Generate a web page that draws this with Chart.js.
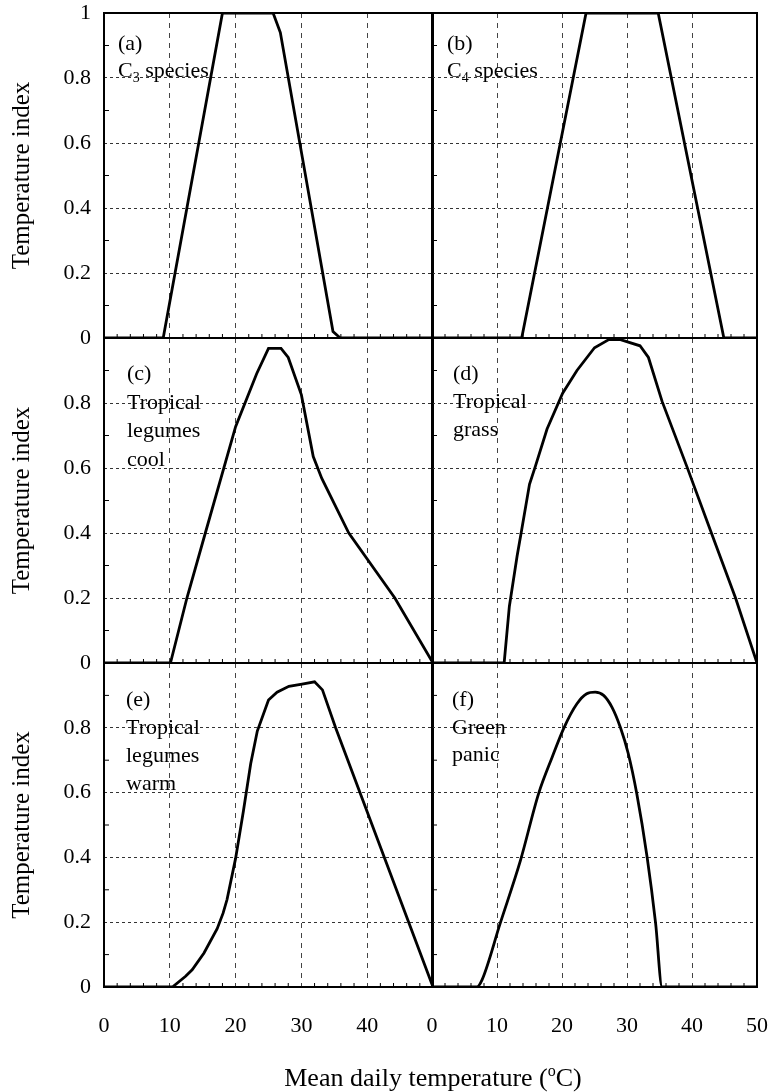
<!DOCTYPE html>
<html>
<head>
<meta charset="utf-8">
<script src="https://cdn.jsdelivr.net/npm/chart.js@4.4.0/dist/chart.umd.min.js"></script>
<style>
    body { margin: 0; background: #fff; }
    #wrap { position: relative; width: 775px; height: 1092px; }
    #wrap canvas { position: absolute; left: 0; top: 0; }
    #xTitle {
        position: absolute; left: 133px; width: 600px; top: 1056px;
        text-align: center; font: 26px "Liberation Serif", "Times New Roman", serif;
        line-height: 30px; color: #000;
    }
    #xTitle sup { font-size: 16px; vertical-align: 10px; }
</style>
</head>
<body>
<div id="wrap">
    <canvas id="panelA" width="775" height="1092"></canvas>
    <canvas id="panelB" width="775" height="1092"></canvas>
    <canvas id="panelC" width="775" height="1092"></canvas>
    <canvas id="panelD" width="775" height="1092"></canvas>
    <canvas id="panelE" width="775" height="1092"></canvas>
    <canvas id="panelF" width="775" height="1092"></canvas>
    <div id="xTitle">Mean daily temperature (<sup>o</sup>C)</div>
</div>
<script>
// Data (temperature in degC, index 0..1)
const c3Temp = [0, 9, 18, 25.7, 26.8, 34.8, 35.9, 50];
const c3Index = [0, 0, 1, 1, 0.94, 0.02, 0, 0];

const c4Temp = [0, 13.8, 23.7, 34.8, 44.9, 50];
const c4Index = [0, 0, 1, 1, 0, 0];

const legCoolTemp = [0, 10.1, 12.6, 15.4, 20, 23.2, 25, 26.9, 28, 30, 31.8, 33.1, 37.2, 44.2, 50];
const legCoolIndex = [0, 0, 0.2, 0.4, 0.727, 0.89, 0.968, 0.968, 0.94, 0.825, 0.635, 0.568, 0.4, 0.2, 0];

const grassTemp = [0, 11.1, 11.9, 13.1, 13.8, 15.0, 15.9, 17.7, 20.1, 22.3, 25.0, 27.2, 29.0, 32.0, 33.3, 35.4, 39.2, 42.8, 46.7, 50];
const grassIndex = [0, 0, 0.174, 0.33, 0.41, 0.55, 0.605, 0.72, 0.83, 0.90, 0.97, 0.995, 0.995, 0.976, 0.94, 0.805, 0.605, 0.41, 0.2, 0];

const legWarmTemp = [0, 10.4, 12.4, 13.4, 15.2, 17.2, 18.1, 18.7, 20.0, 21.2, 22.3, 23.3, 25.0, 26.3, 28.1, 30.1, 32.0, 33.2, 35.2, 50];
const legWarmIndex = [0, 0, 0.033, 0.053, 0.105, 0.18, 0.228, 0.27, 0.397, 0.545, 0.69, 0.79, 0.886, 0.91, 0.928, 0.935, 0.942, 0.917, 0.80, 0];

const panicTemp = [0, 6.9, 7.7, 10.5, 13.6, 16.4, 18.5, 20.3, 22.3, 23.8, 25.1, 26.4, 27.7, 29.0, 30.2, 31.5, 33.1, 34.4, 35.4, 50];
const panicIndex = [0, 0, 0.022, 0.197, 0.39, 0.597, 0.71, 0.80, 0.874, 0.905, 0.91, 0.90, 0.863, 0.80, 0.72, 0.597, 0.40, 0.197, 0, 0];

// Minor (inward) tick positions
const minorY = [0.1, 0.3, 0.5, 0.7, 0.9];
const minorX = [2, 4, 6, 8, 12, 14, 16, 18, 22, 24, 26, 28, 32, 34, 36, 38, 42, 44, 46, 48];

const serif = '"Liberation Serif", "Times New Roman", serif';

// Panel frame geometry
const cols = [{ left: 104, right: 433 }, { left: 432, right: 757 }];
const rows = [{ top: 13, bottom: 338 }, { top: 338, bottom: 663 }, { top: 663, bottom: 987 }];

// Draw frame, inward minor ticks and the panel label
const panelDecor = {
    id: 'panelDecor',
    afterDraw(chart, args, opts) {
        const { ctx, chartArea: a, scales: { x, y } } = chart;
        ctx.save();
        ctx.strokeStyle = '#000';
        ctx.lineWidth = 2;
        ctx.strokeRect(a.left, a.top, a.right - a.left, a.bottom - a.top);

        ctx.lineWidth = 1;
        ctx.beginPath();
        minorY.forEach(v => {
            const py = y.getPixelForValue(v);
            ctx.moveTo(a.left, py);
            ctx.lineTo(a.left + 5, py);
        });
        minorX.forEach(v => {
            const px = x.getPixelForValue(v);
            ctx.moveTo(px, a.bottom);
            ctx.lineTo(px, a.bottom - 4);
        });
        ctx.stroke();

        ctx.fillStyle = '#000';
        ctx.textBaseline = 'alphabetic';
        ctx.textAlign = 'left';
        opts.lines.forEach((line, i) => {
            let tx = a.left + opts.dx;
            const ty = a.top + opts.dy + i * opts.lineH;
            line.split(/(_\d)/).forEach(part => {
                if (!part) return;
                const sub = part[0] === '_';
                const t = sub ? part.slice(1) : part;
                ctx.font = (sub ? '14px ' : '22px ') + serif;
                ctx.fillText(t, tx, ty + (sub ? 5 : 0));
                tx += ctx.measureText(t).width;
            });
        });
        ctx.restore();
    }
};

let charts = {};

function makePanel(id, col, row, temps, values, label, smooth) {
    const yW = col === 0 ? 104 : 0;
    const xH = row === 2 ? 60 : 0;
    const points = temps.map((t, i) => ({ x: t, y: values[i] }));
    const target = { left: cols[col].left, right: cols[col].right, top: rows[row].top, bottom: rows[row].bottom };
    const pad = {
        left: col === 0 ? 0 : cols[1].left,
        right: 775 - cols[col].right,
        top: rows[row].top,
        bottom: 1092 - rows[row].bottom - xH
    };

    const chart = new Chart(document.getElementById(id), {
        type: 'line',
        data: {
            datasets: [{
                data: points,
                borderColor: '#000',
                borderWidth: 2.8,
                pointRadius: 0,
                tension: 0,
                cubicInterpolationMode: smooth ? 'monotone' : 'default',
                fill: false
            }]
        },
        options: {
            responsive: false,
            animation: false,
            layout: { padding: pad },
            plugins: {
                legend: { display: false },
                tooltip: { enabled: false },
                panelDecor: label
            },
            scales: {
                x: {
                    type: 'linear',
                    min: 0,
                    max: 50,
                    afterFit: s => {
                        s.height = xH;
                        s.paddingLeft = 0;
                        s.paddingRight = 0;
                    },
                    grid: {
                        drawTicks: false,
                        lineWidth: 1,
                        color: c => (c.tick && c.tick.value > 0 && c.tick.value < 50) ? '#444' : 'rgba(0,0,0,0)'
                    },
                    border: { display: false, dash: [5, 5] },
                    ticks: {
                        display: row === 2,
                        stepSize: 10,
                        padding: 26,
                        color: '#000',
                        font: { family: serif, size: 22 },
                        callback: v => (col === 0 && v === 50) ? '' : String(v)
                    }
                },
                y: {
                    min: 0,
                    max: 1,
                    afterFit: s => {
                        s.width = yW;
                        s.paddingTop = 0;
                        s.paddingBottom = 0;
                    },
                    grid: {
                        drawTicks: false,
                        lineWidth: 1,
                        color: c => (c.tick && c.tick.value > 0.01 && c.tick.value < 0.99) ? '#333' : 'rgba(0,0,0,0)'
                    },
                    border: { display: false, dash: [3, 3] },
                    title: {
                        display: col === 0,
                        text: 'Temperature index',
                        color: '#000',
                        font: { family: serif, size: 25 },
                        padding: { top: 7, bottom: 0 }
                    },
                    ticks: {
                        display: col === 0,
                        stepSize: 0.2,
                        padding: 13,
                        color: '#000',
                        font: { family: serif, size: 22 },
                        callback: v => (row > 0 && v > 0.99) ? '' : String(Math.round(v * 10) / 10)
                    }
                }
            }
        },
        plugins: [panelDecor]
    });

    // nudge layout padding until the plot area sits on the panel frame
    for (let i = 0; i < 3; i++) {
        const a = chart.chartArea;
        const dl = target.left - a.left, dr = a.right - target.right;
        const dt = target.top - a.top, db = a.bottom - target.bottom;
        if (Math.abs(dl) + Math.abs(dr) + Math.abs(dt) + Math.abs(db) < 0.5) break;
        pad.left += dl;
        pad.right += dr;
        pad.top += dt;
        pad.bottom += db;
        chart.update();
    }
    charts[id] = chart;
}

makePanel('panelA', 0, 0, c3Temp, c3Index, { lines: ['(a)', 'C_3 species'], dx: 14, dy: 37, lineH: 26.5 });
makePanel('panelB', 1, 0, c4Temp, c4Index, { lines: ['(b)', 'C_4 species'], dx: 15, dy: 37, lineH: 26.5 });
makePanel('panelC', 0, 1, legCoolTemp, legCoolIndex, { lines: ['(c)', 'Tropical', 'legumes', 'cool'], dx: 23, dy: 42, lineH: 28.5 });
makePanel('panelD', 1, 1, grassTemp, grassIndex, { lines: ['(d)', 'Tropical', 'grass'], dx: 21, dy: 42, lineH: 28 });
makePanel('panelE', 0, 2, legWarmTemp, legWarmIndex, { lines: ['(e)', 'Tropical', 'legumes', 'warm'], dx: 22, dy: 43, lineH: 28 });
makePanel('panelF', 1, 2, panicTemp, panicIndex, { lines: ['(f)', 'Green', 'panic'], dx: 20, dy: 43, lineH: 27.5 }, true);
</script>
</body>
</html>
